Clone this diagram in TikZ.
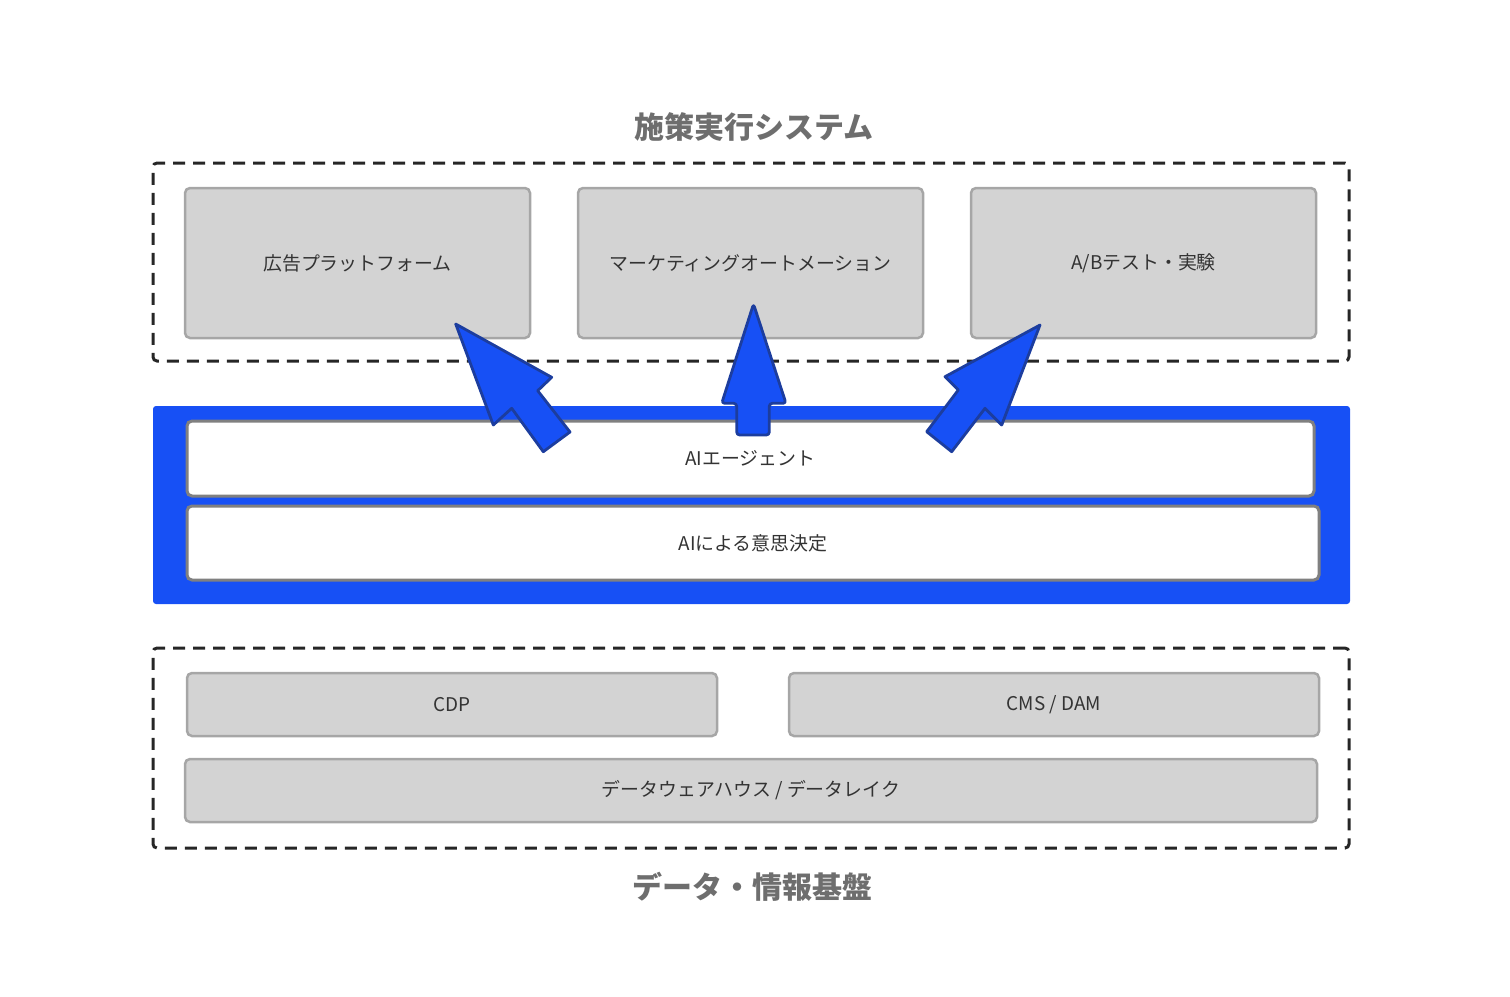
\documentclass[tikz,border=0pt]{standalone}
\usepackage{fontspec}
\setmainfont{Noto Sans CJK JP}
\usepackage{xcolor}
\usepackage{tikz}
\usetikzlibrary{positioning,arrows.meta}

\definecolor{aiblue}{HTML}{1750F5}
\definecolor{arrowedge}{HTML}{1C3D9E}
\definecolor{boxgray}{HTML}{D3D3D3}
\definecolor{boxedge}{HTML}{A6A6A6}
\definecolor{titlegray}{HTML}{6E6E6E}
\definecolor{textdark}{HTML}{333333}

\begin{document}
\begin{tikzpicture}[x=1pt, y=-1pt, every node/.style={font=\fontsize{18.9}{23}\selectfont, text=textdark},
    group/.style={rectangle, draw=black!85, dashed, dash pattern=on 12pt off 8pt, line width=3pt, rounded corners=4pt, inner sep=0pt},
    tool/.style={rectangle, draw=boxedge, fill=boxgray, line width=2.5pt, rounded corners=5pt, inner sep=0pt},
    layer/.style={rectangle, draw=gray, fill=white, line width=3pt, rounded corners=5pt, inner sep=0pt},
    title/.style={font=\fontsize{30}{35}\selectfont\bfseries, text=titlegray},
    blockarrow/.style={draw=arrowedge, fill=aiblue, line width=2.8pt, line join=round}]
    \useasboundingbox (0,0) rectangle (1510,996);
    % upper group
    \node[title] (exectitle) at (754,127) {施策実行システム};
    \node[group, minimum width=1196pt, minimum height=198pt] (execgroup) at (751,262) {};
    \node[tool, minimum width=345pt, minimum height=150pt] (ads) at (357.5,263) {広告プラットフォーム};
    \node[tool, minimum width=345pt, minimum height=150pt] (ma) at (750.5,263) {マーケティングオートメーション};
    \node[tool, minimum width=345pt, minimum height=150pt] (abtest) at (1143.5,263) {A/Bテスト・実験};
    % AI layer
    \node[rectangle, fill=aiblue, rounded corners=3pt, minimum width=1197pt, minimum height=198pt] (aiband) at (751.5,505) {};
    \node[layer, minimum width=1127pt, minimum height=75pt] (agent) at (750.5,458.5) {AIエージェント};
    \node[layer, minimum width=1132pt, minimum height=74pt] (decision) at (753,543) {AIによる意思決定};
    % data group
    \node[group, minimum width=1196pt, minimum height=200pt] (datagroup) at (751,748) {};
    \node[tool, minimum width=530pt, minimum height=63pt] (cdp) at (452,704.5) {CDP};
    \node[tool, minimum width=530pt, minimum height=63pt] (cms) at (1054,704.5) {CMS / DAM};
    \node[tool, minimum width=1132pt, minimum height=63pt] (dwh) at (751,790.5) {データウェアハウス / データレイク};
    \node[title] (datatitle) at (752,887) {データ・情報基盤};
    % arrows from the agent
    \draw[blockarrow] (455.7,324) -- (551.7,377.3) -- (537.7,390.7) -- (570,432) -- (543.3,451.7) -- (511.7,408.3) -- (493.3,425) -- cycle;
    \draw[blockarrow, rounded corners=3pt] (753.5,304) -- (786,403.3) -- (769.3,403.3) -- (769.3,435) -- (736.7,435) -- (736.7,403.3) -- (721.7,403.3) -- cycle;
    \draw[blockarrow] (1040,325) -- (1001.7,425) -- (985,408.3) -- (951.7,451.7) -- (926.7,431.7) -- (958.3,390) -- (945,376.7) -- cycle;
\end{tikzpicture}
\end{document}
